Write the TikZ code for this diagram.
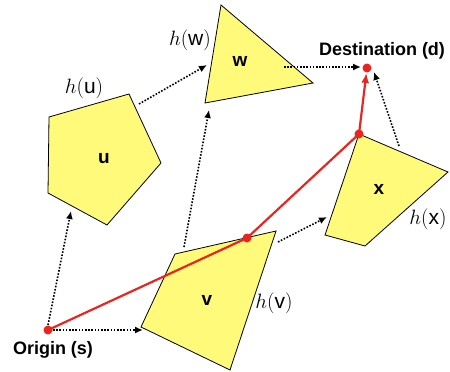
\documentclass[tikz,border=0pt]{standalone}
\usepackage{fontspec}
\setsansfont{Liberation Sans}
\usetikzlibrary{arrows.meta}
\definecolor{regfill}{RGB}{255,250,122}
\definecolor{pathred}{RGB}{232,37,30}
\begin{document}
\begin{tikzpicture}[x=1pt,y=-1pt,
  region/.style={fill=regfill,draw=black,line width=0.8pt,line join=miter},
  hop/.style={draw=black,line width=1.6pt,dash pattern=on 1.6pt off 1.6pt,-{Latex[length=8pt,width=7pt]}},
  route/.style={draw=pathred,line width=2.2pt},
  reddot/.style={circle,fill=pathred,inner sep=0pt,minimum size=9pt},
  hlab/.style={font=\fontsize{21}{21}\selectfont,inner sep=0pt},
  rlab/.style={font=\sffamily\bfseries\fontsize{19}{19}\selectfont,inner sep=0pt},
  tlab/.style={font=\sffamily\bfseries\fontsize{18}{18}\selectfont,inner sep=0pt}]
\useasboundingbox (0,0) rectangle (450,372);
% regions
\draw[region] (49,117) -- (129,94) -- (161,163) -- (107,225) -- (48,193) -- cycle;
\draw[region] (221,5) -- (313,83) -- (205,103) -- cycle;
\draw[region] (359,134) -- (448,172) -- (365,246) -- (325,235) -- cycle;
\draw[region] (175,254) -- (276,231) -- (230,370) -- (141,327) -- cycle;
% region names
\node[rlab] (lu) at (104,159) {u};
\node[rlab] (lw) at (240,61) {w};
\node[rlab] (lx) at (379,189) {x};
\node[rlab] (lv) at (207,300) {v};
% heuristic labels
\node[hlab] (hu) at (84,88) {$h$(\textsf{u})};
\node[hlab] (hw) at (190,40) {$h$(\textsf{w})};
\node[hlab] (hv) at (274,303) {$h$(\textsf{v})};
\node[hlab] (hx) at (428,219) {$h$(\textsf{x})};
% endpoints
\coordinate (s) at (48,330);
\coordinate (vd) at (247,238);
\coordinate (xd) at (359,134);
\coordinate (d) at (367,68);
\coordinate (su0) at (48,325);  \coordinate (su1) at (71,211);
\coordinate (sv0) at (53,330);  \coordinate (sv1) at (143,330);
\coordinate (uw0) at (139,104); \coordinate (uw1) at (207,65);
\coordinate (vw0) at (184,247); \coordinate (vw1) at (209,110);
\coordinate (vx0) at (278,242); \coordinate (vx1) at (327,217);
\coordinate (wd0) at (284,67);  \coordinate (wd1) at (361,67);
\coordinate (xd0) at (399,146); \coordinate (xd1) at (374,72);
% dotted hops
\draw[hop] (su0) -- (su1);
\draw[hop] (sv0) -- (sv1);
\draw[hop] (uw0) -- (uw1);
\draw[hop] (vw0) -- (vw1);
\draw[hop] (vx0) -- (vx1);
\draw[hop] (wd0) -- (wd1);
\draw[hop] (xd0) -- (xd1);
% red route
\draw[route,line join=round] (s) -- (vd) -- (xd);
\draw[route,-{Latex[length=10pt,width=8pt]},shorten >=5pt] (xd) -- (d);
\node[reddot] (ns) at (s) {};
\node[reddot] (nv) at (vd) {};
\node[reddot] (nx) at (xd) {};
\node[reddot] (nd) at (d) {};
% titles
\node[tlab] (orig) at (53,350) {Origin (s)};
\node[tlab] (dest) at (382,51) {Destination (d)};
\end{tikzpicture}
\end{document}
